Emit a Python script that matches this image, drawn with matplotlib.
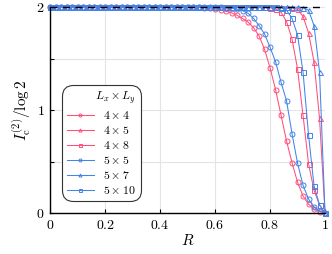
import numpy as np
import matplotlib

matplotlib.use("Agg")

import matplotlib.pyplot as plt  # noqa: E402

plt.rcParams["font.family"] = "serif"
plt.rcParams["font.serif"] = ["cmr10", "DejaVu Serif"]
plt.rcParams["mathtext.fontset"] = "cm"
plt.rcParams["axes.formatter.use_mathtext"] = True

R = np.linspace(0.0, 1.0, 51)

# I_c^(2)/log2 for each lattice (R step 0.02)
y_4x4 = [2.0, 2.0, 2.0, 2.0, 2.0, 2.0, 2.0, 2.0, 2.0, 2.0,
         2.0, 2.0, 2.0, 2.0, 2.0, 2.0, 2.0, 2.0, 2.0, 2.0,
         2.0, 2.0, 2.0, 2.0, 2.0, 2.0, 1.998, 1.997, 1.995, 1.99,
         1.985, 1.975, 1.96, 1.945, 1.92, 1.89, 1.855, 1.80, 1.72, 1.59,
         1.41, 1.20, 0.95, 0.70, 0.49, 0.30, 0.165, 0.087, 0.04, 0.015,
         0.0]
y_4x5 = [2.0, 2.0, 2.0, 2.0, 2.0, 2.0, 2.0, 2.0, 2.0, 2.0,
         2.0, 2.0, 2.0, 2.0, 2.0, 2.0, 2.0, 2.0, 2.0, 2.0,
         2.0, 2.0, 2.0, 2.0, 2.0, 2.0, 2.0, 2.0, 2.0, 2.0,
         2.0, 2.0, 2.0, 2.0, 2.0, 2.0, 2.0, 2.0, 2.0, 2.0,
         2.0, 2.0, 2.0, 2.0, 1.995, 1.98, 1.91, 1.75, 1.47, 0.92,
         0.0]
y_4x8 = [2.0, 2.0, 2.0, 2.0, 2.0, 2.0, 2.0, 2.0, 2.0, 2.0,
         2.0, 2.0, 2.0, 2.0, 2.0, 2.0, 2.0, 2.0, 2.0, 2.0,
         2.0, 2.0, 2.0, 2.0, 2.0, 2.0, 2.0, 2.0, 2.0, 2.0,
         2.0, 2.0, 2.0, 2.0, 2.0, 2.0, 2.0, 2.0, 2.0, 1.998,
         1.995, 1.985, 1.95, 1.86, 1.69, 1.40, 0.95, 0.48, 0.22, 0.08,
         0.0]
y_5x5 = [2.0, 2.0, 2.0, 2.0, 2.0, 2.0, 2.0, 2.0, 2.0, 2.0,
         2.0, 2.0, 2.0, 2.0, 2.0, 2.0, 2.0, 2.0, 2.0, 2.0,
         2.0, 2.0, 2.0, 2.0, 2.0, 2.0, 2.0, 2.0, 2.0, 2.0,
         2.0, 1.998, 1.995, 1.99, 1.98, 1.965, 1.94, 1.89, 1.82, 1.74,
         1.61, 1.47, 1.27, 1.09, 0.77, 0.485, 0.27, 0.136, 0.058, 0.02,
         0.0]
y_5x7 = [2.0, 2.0, 2.0, 2.0, 2.0, 2.0, 2.0, 2.0, 2.0, 2.0,
         2.0, 2.0, 2.0, 2.0, 2.0, 2.0, 2.0, 2.0, 2.0, 2.0,
         2.0, 2.0, 2.0, 2.0, 2.0, 2.0, 2.0, 2.0, 2.0, 2.0,
         2.0, 2.0, 2.0, 2.0, 2.0, 2.0, 2.0, 2.0, 2.0, 2.0,
         2.0, 2.0, 2.0, 2.0, 2.0, 2.0, 1.995, 1.97, 1.82, 1.37,
         0.0]
y_5x10 = [2.0, 2.0, 2.0, 2.0, 2.0, 2.0, 2.0, 2.0, 2.0, 2.0,
          2.0, 2.0, 2.0, 2.0, 2.0, 2.0, 2.0, 2.0, 2.0, 2.0,
          2.0, 2.0, 2.0, 2.0, 2.0, 2.0, 2.0, 2.0, 2.0, 2.0,
          2.0, 2.0, 2.0, 2.0, 2.0, 2.0, 2.0, 2.0, 2.0, 2.0,
          2.0, 2.0, 1.995, 1.97, 1.89, 1.73, 1.37, 0.76, 0.265, 0.08,
          0.0]

labels = [r"$4\times4$", r"$4\times5$", r"$4\times8$",
          r"$5\times5$", r"$5\times7$", r"$5\times10$"]
series = [y_4x4, y_4x5, y_4x8, y_5x5, y_5x7, y_5x10]

PINK = "#ff4f7b"
BLUE = "#4185e8"
colors = [PINK, PINK, PINK, BLUE, BLUE, BLUE]
markers = ["o", "^", "s", "o", "^", "s"]

fig = plt.figure(figsize=(3.32, 2.54), dpi=100)
ax = fig.add_axes([0.151, 0.161, 0.828, 0.811])

for y, lab, c, m in zip(series, labels, colors, markers):
    ax.plot(R, y, color=c, lw=0.75, marker=m, ms=3.6, mfc="none", mew=0.7,
            label=lab, clip_on=False, zorder=2)

ax.axhline(2.0, color="k", lw=1.0, ls=(0, (5, 4)), zorder=3, clip_on=False)

ax.set_xlim(0, 1)
ax.set_ylim(0, 2)
ax.set_xticks([0, 0.2, 0.4, 0.6, 0.8, 1.0])
ax.set_xticklabels(["$0$", "$0.2$", "$0.4$", "$0.6$", "$0.8$", "$1$"])
ax.set_yticks([0, 0.5, 1, 1.5, 2])
ax.set_yticklabels(["$0$", "", "$1$", "", "$2$"])
ax.tick_params(direction="in", length=3, width=0.8, labelsize=10, pad=4)
ax.grid(True, color="#e4e4e4", lw=0.8)
ax.set_axisbelow(True)
for s in ("top", "right"):
    ax.spines[s].set_visible(False)
for s in ("left", "bottom"):
    ax.spines[s].set_linewidth(1.0)

ax.set_xlabel("$R$", fontsize=11, labelpad=1)
ax.set_ylabel(r"$I_{\rm c}^{(2)}/\log 2$", fontsize=11, labelpad=2)

leg = ax.legend(loc="lower left", bbox_to_anchor=(0.043, 0.06),
                title=r"$L_x\times L_y$", fontsize=8.5, title_fontsize=8.5,
                fancybox=True, framealpha=1, edgecolor="#333333",
                handlelength=2.3, labelspacing=0.25, borderpad=0.4,
                handletextpad=0.8, markerscale=0.6, borderaxespad=0)
leg.get_frame().set_linewidth(0.8)
leg.get_frame().set_boxstyle("round,pad=0,rounding_size=0.9")
leg._legend_box.align = "right"

fig.savefig("out.png", dpi=100)
plt.close(fig)
